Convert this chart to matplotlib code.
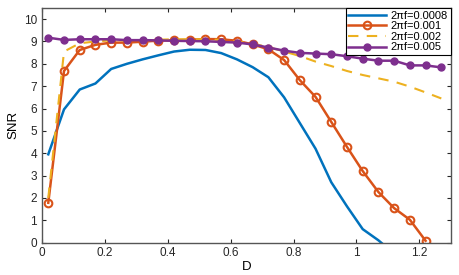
import numpy as np
import matplotlib.pyplot as plt

plt.rcParams['font.family'] = ['Liberation Sans', 'DejaVu Sans']

# D values (step 0.05)
D = [0.02, 0.07, 0.12, 0.17, 0.22, 0.27, 0.32, 0.37, 0.42, 0.47, 0.52, 0.57, 0.62,
     0.67, 0.72, 0.77, 0.82, 0.87, 0.92, 0.97, 1.02, 1.07, 1.12, 1.17, 1.22, 1.27]

# SNR for each 2*pi*f
snr_0008 = [3.95, 5.96, 6.85, 7.12, 7.77, 8.0, 8.2, 8.38, 8.55, 8.63, 8.62, 8.48, 8.2,
            7.85, 7.4, 6.5, 5.35, 4.2, 2.7, 1.62, 0.6, 0.1, -0.5]
snr_001 = [1.78, 7.68, 8.62, 8.85, 8.95, 8.95, 8.99, 9.04, 9.05, 9.08, 9.11, 9.1, 9.03,
           8.87, 8.65, 8.17, 7.27, 6.52, 5.4, 4.28, 3.2, 2.26, 1.54, 1.02, 0.08]
snr_002 = [2.0, 8.55, 8.92, 9.0, 9.05, 9.05, 9.05, 9.08, 9.1, 9.1, 9.1, 9.07, 9.0,
           8.9, 8.75, 8.55, 8.35, 8.1, 7.9, 7.68, 7.5, 7.35, 7.2, 6.98, 6.72, 6.45]
snr_005 = [9.17, 9.07, 9.1, 9.1, 9.1, 9.06, 9.06, 9.05, 9.03, 9.02, 9.01, 8.98, 8.95,
           8.87, 8.73, 8.59, 8.49, 8.46, 8.43, 8.34, 8.23, 8.14, 8.14, 7.93, 7.93, 7.84]

labels = ['2πf=0.0008', '2πf=0.001', '2πf=0.002', '2πf=0.005']

fig = plt.figure(figsize=(4.59, 2.75), dpi=100)
ax = fig.add_axes([0.0915, 0.118, 0.8905, 0.853])

ax.plot(D[:len(snr_0008)], snr_0008, color='#0072BD', lw=1.8, label=labels[0])
ax.plot(D[:len(snr_001)], snr_001, color='#D95319', lw=1.8, marker='o', ms=5.5,
        mfc='none', mew=1.5, label=labels[1])
ax.plot(D, snr_002, color='#EDB120', lw=1.5, ls=(0, (5, 4)), label=labels[2])
ax.plot(D, snr_005, color='#7E2F8E', lw=1.8, marker='o', ms=5, label=labels[3])

ax.set_xlim(0, 1.3)
ax.set_ylim(0, 10.5)
ax.set_xticks([0, 0.2, 0.4, 0.6, 0.8, 1, 1.2])
ax.set_xticklabels(['0', '0.2', '0.4', '0.6', '0.8', '1', '1.2'])
ax.set_yticks(range(0, 11))
ax.tick_params(direction='in', top=True, right=True, length=3, labelsize=8.5,
               colors='#262626', width=0.8)
for s in ax.spines.values():
    s.set_color('#555555')
    s.set_linewidth(1.0)
ax.set_xlabel('D', fontsize=9.5, labelpad=1)
ax.set_ylabel('SNR', fontsize=9.5, labelpad=3)

leg = ax.legend(loc='upper right', fontsize=8, frameon=True, fancybox=False,
                edgecolor='black', framealpha=1, borderaxespad=0,
                handlelength=3.4, labelspacing=0.05, borderpad=0.25, handletextpad=0.4)
leg.get_frame().set_linewidth(0.8)

fig.savefig('out.png', dpi=100)
